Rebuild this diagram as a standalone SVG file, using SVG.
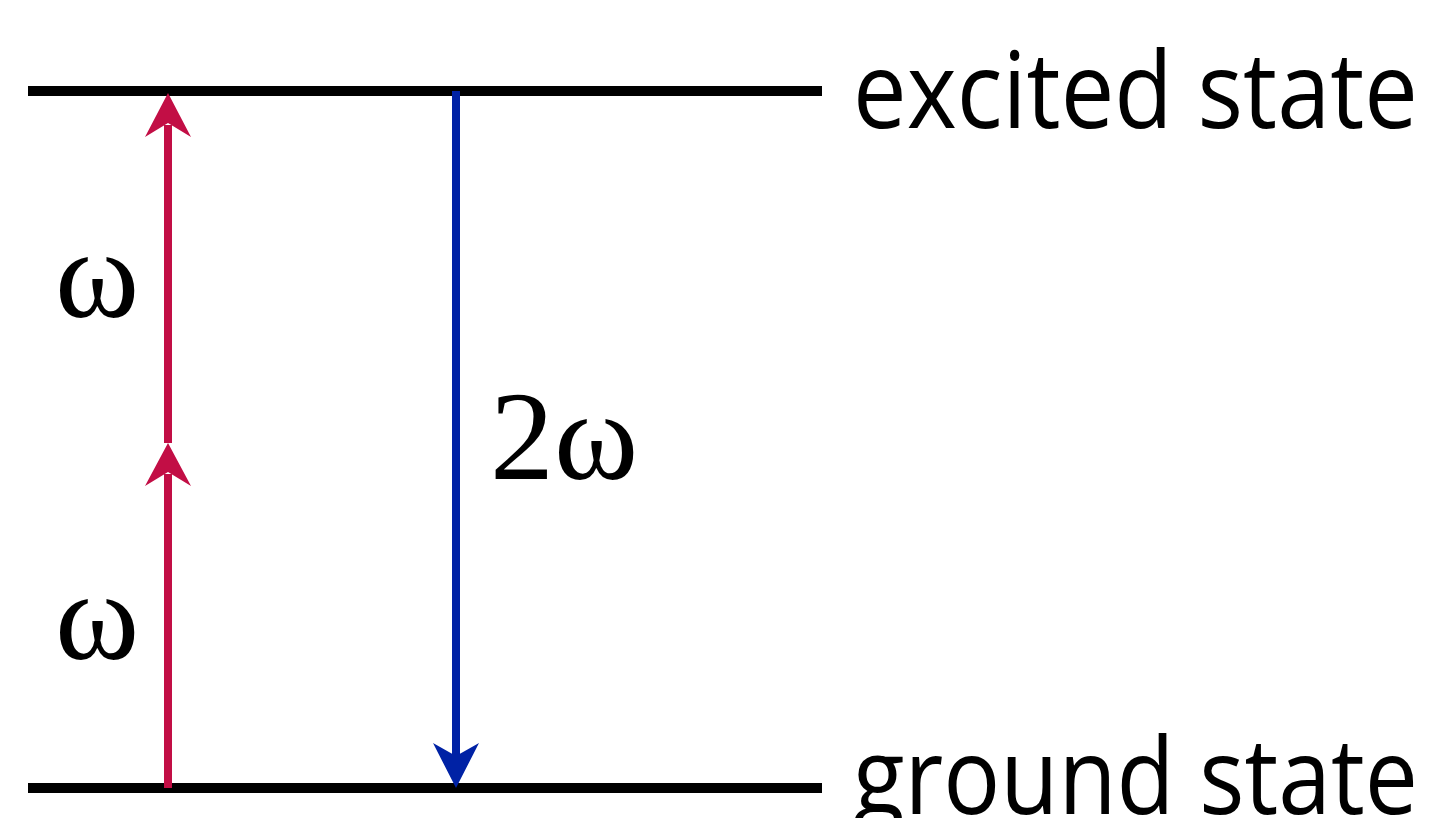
<svg xmlns="http://www.w3.org/2000/svg" width="1433" height="818" viewBox="0 0 1433 818">
<style>
.lvl{stroke:#000;stroke-width:10;fill:none}
.red{stroke:#C20E45;stroke-width:8;fill:none}
.blue{stroke:#0022A5;stroke-width:8;fill:none}
.lbl{font-family:"Open Sans","Noto Sans",sans-serif;font-size:106px;fill:#000}
.sym{font-family:"Liberation Serif","DejaVu Serif",serif;font-size:128px;fill:#000}
.num{font-family:"Liberation Serif","DejaVu Serif",serif;font-size:128px;fill:#000}
</style>
<g id="excited"><line class="lvl" x1="28" y1="91" x2="822" y2="91"/><text class="lbl" x="853" y="128" textLength="565" lengthAdjust="spacingAndGlyphs">excited state</text></g>
<g id="ground"><line class="lvl" x1="28" y1="788" x2="822" y2="788"/><text class="lbl" x="853" y="814" textLength="565" lengthAdjust="spacingAndGlyphs">ground state</text></g>
<g id="connectors">
<line class="red" x1="168" y1="788" x2="168" y2="474"/>
<path d="M168,443 L191,486 L168,472 L145,486 Z" fill="#C20E45"/>
<line class="red" x1="168" y1="443" x2="168" y2="125"/>
<path d="M168,93 L191,137 L168,123 L145,137 Z" fill="#C20E45"/>
<line class="blue" x1="456" y1="91" x2="456" y2="756"/>
<path d="M456,788 L479,743 L456,756 L433,743 Z" fill="#0022A5"/>
</g>
<g id="w1"><text class="sym" x="97" y="317" text-anchor="middle">ω</text></g>
<g id="w2"><text class="sym" x="97" y="659" text-anchor="middle">ω</text></g>
<g id="w3"><text x="490" y="479"><tspan class="num">2</tspan><tspan class="sym">ω</tspan></text></g>
</svg>
